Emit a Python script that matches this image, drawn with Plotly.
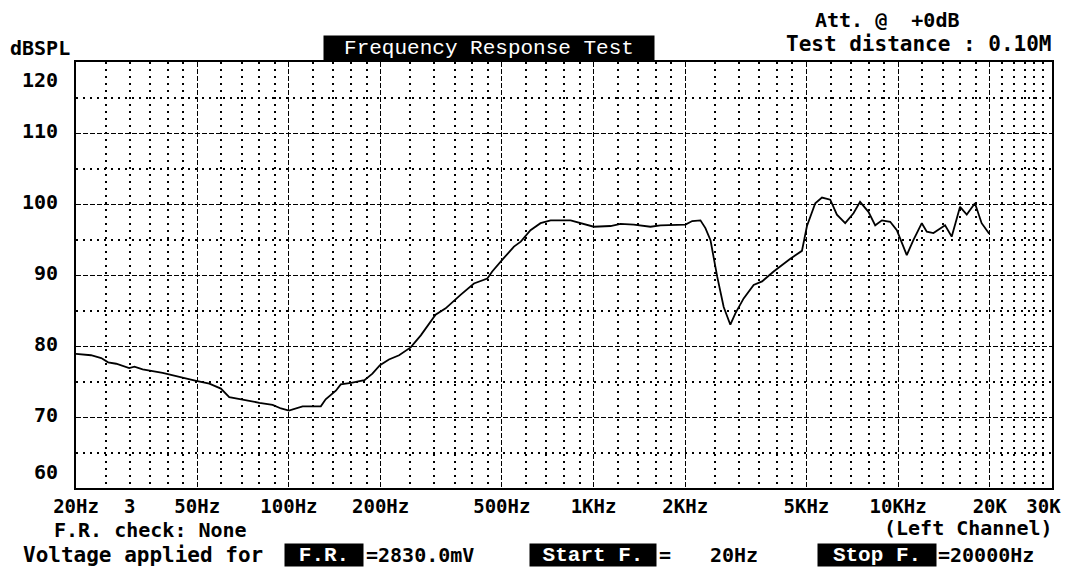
import math
import plotly.graph_objects as go

# ---------------- data ----------------
freq_hz = [20, 22.4, 24.2, 25.5, 27.1, 29.9, 31.1, 33.1, 38.5, 44.8, 49.6, 54.8, 59.8,
           63.7, 70.5, 80, 88.4, 94.2, 100, 110.9, 127.3, 132, 142.6, 148, 160, 177,
           188, 199, 213, 230, 251, 271, 303, 327, 366, 405, 448, 465, 508, 548, 577,
           621, 670, 723, 841, 929, 1002, 1137, 1227, 1356, 1538, 1659, 2004, 2109,
           2244, 2330, 2421, 2546, 2675, 2813, 2922, 3111, 3355, 3576, 3902, 4427,
           4833, 5020, 5345, 5623, 5987, 6295, 6702, 7136, 7500, 7990, 8410, 8846,
           9418, 9903, 10675, 11220, 11960, 12420, 13060, 14260, 14990, 15970, 16800,
           17870, 18800, 19910]
spl_db = [78.9, 78.7, 78.3, 77.7, 77.5, 76.9, 77.1, 76.7, 76.2, 75.5, 75.1, 74.7, 74.0,
          72.8, 72.4, 72.0, 71.7, 71.2, 70.9, 71.5, 71.5, 72.5, 73.7, 74.6, 74.8, 75.2,
          76.1, 77.3, 78.1, 78.7, 79.8, 81.5, 84.4, 85.3, 87.2, 88.8, 89.5, 90.5, 92.4,
          94.0, 94.7, 96.3, 97.3, 97.7, 97.7, 97.2, 96.8, 96.9, 97.2, 97.1, 96.8, 97.0,
          97.1, 97.6, 97.7, 96.6, 94.9, 89.8, 85.5, 83.0, 84.6, 86.7, 88.6, 89.1, 90.5,
          92.3, 93.4, 96.9, 100.1, 100.9, 100.6, 98.5, 97.3, 98.7, 100.3, 98.9, 97.0,
          97.7, 97.5, 96.3, 92.8, 94.9, 97.3, 96.1, 95.9, 97.0, 95.4, 99.6, 98.5, 100.1,
          97.3, 95.8]

x_tick_vals = [20, 30, 50, 100, 200, 500, 1000, 2000, 5000, 10000, 20000, 30000]
x_tick_text = ["20Hz", "3", "50Hz", "100Hz", "200Hz", "500Hz", "1KHz", "2KHz", "5KHz",
               "10KHz", "20K", "30K"]
x_major_grid = [50, 100, 200, 500, 1000, 2000, 5000, 10000, 20000]
x_minor_grid = [25, 30, 35, 40, 45, 60, 70, 80, 90, 120, 140, 160, 180,
                250, 300, 350, 400, 450, 600, 700, 800, 900, 1200, 1400, 1600, 1800,
                2500, 3000, 3500, 4000, 4500, 6000, 7000, 8000, 9000,
                12000, 14000, 16000, 18000, 22000, 24000, 26000, 28000, 30000]
y_tick_vals = [60, 70, 80, 90, 100, 110, 120]
y_major_grid = [70, 80, 90, 100, 110]
y_minor_grid = [65, 75, 85, 95, 105, 115]

X_RANGE = [20, 32000]
Y_RANGE = [60, 120]

# ---------------- layout geometry ----------------
W, H = 1074, 572
L, R, T, B = 76, 1052, 62, 488
PW, PH = R - L, B - T


def px(xp):
    return (xp - L) / PW


def py(yp):
    return (B - yp) / PH


MONO = "DejaVu Sans Mono"
SERIF_MONO = "Liberation Mono"
FS = 20

fig = go.Figure()
fig.add_trace(go.Scatter(x=freq_hz, y=spl_db, mode="lines",
                         line=dict(color="black", width=1.8), hoverinfo="skip",
                         showlegend=False))
# invisible trace to anchor the grid axis
fig.add_trace(go.Scatter(x=[X_RANGE[0]], y=[Y_RANGE[0]], xaxis="x2", mode="markers",
                         marker=dict(opacity=0), showlegend=False, hoverinfo="skip"))

lx = [math.log10(v) for v in X_RANGE]

fig.update_layout(
    width=W, height=H,
    margin=dict(l=L, r=W - R, t=T, b=H - B),
    paper_bgcolor="white", plot_bgcolor="white",
    xaxis=dict(type="log", range=lx, tickmode="array", tickvals=x_tick_vals,
               ticktext=x_tick_text, showgrid=False, zeroline=False,
               showline=True, linecolor="black", linewidth=2, mirror=True,
               ticks="", tickfont=dict(family=MONO, size=19, color="black",
                                       weight="bold"),
               ticklabelstandoff=0),
    xaxis2=dict(type="log", range=lx, overlaying="x", tickmode="array",
                tickvals=x_major_grid, showticklabels=False, ticks="",
                showgrid=True, gridcolor="black", gridwidth=1.2, griddash="5px,2px",
                zeroline=False, showline=False,
                minor=dict(tickmode="array", tickvals=x_minor_grid, showgrid=True,
                           gridcolor="black", gridwidth=1.5, griddash="2px,5px",
                           ticks="")),
    yaxis=dict(range=Y_RANGE, tickmode="array", tickvals=y_major_grid,
               showticklabels=False, ticks="", showgrid=True, gridcolor="black",
               gridwidth=1.2, griddash="5px,2px", zeroline=False,
               showline=True, linecolor="black", linewidth=2, mirror=True,
               minor=dict(tickmode="array", tickvals=y_minor_grid, showgrid=True,
                          gridcolor="black", gridwidth=1.5, griddash="2px,5px",
                          ticks="")),
)

ann = []


def text(t, xp, yp, xanchor="left", yanchor="middle", size=FS):
    ann.append(dict(text=t, x=px(xp), y=py(yp), xref="paper", yref="paper",
                    xanchor=xanchor, yanchor=yanchor, showarrow=False,
                    font=dict(family=MONO, size=size, color="black", weight="bold")))


# y tick labels
for v in y_tick_vals:
    if v == Y_RANGE[1]:
        ya, ys = "top", -4
    elif v == Y_RANGE[0]:
        ya, ys = "bottom", 2
    else:
        ya, ys = "middle", 2
    ann.append(dict(text=str(v), x=0, y=v, xref="paper", yref="y", xanchor="right",
                    yanchor=ya, xshift=-16, yshift=ys, showarrow=False,
                    font=dict(family=MONO, size=FS, color="black", weight="bold")))

text("dBSPL", 8, 48)
text("Att. @  +0dB", 813, 20)
text("Test distance : 0.10M", 1054, 44, xanchor="right", size=21)
ann.append(dict(text="Frequency Response Test", x=px(489), y=py(48.5), xref="paper",
                yref="paper", xanchor="center", yanchor="middle", showarrow=False,
                width=330, height=25, bgcolor="black", borderpad=0,
                font=dict(family=SERIF_MONO, size=21, color="white")))

text("F.R. check: None", 52, 530, size=20)
text("(Left Channel)", 1055, 528, xanchor="right", size=20)

text("Voltage applied for", 21, 555, size=21)
box_font = dict(family=SERIF_MONO, size=21, color="white", weight="bold")
ann.append(dict(text="F.R.", x=px(324), y=py(555), xref="paper", yref="paper",
                xanchor="center", yanchor="middle", showarrow=False, width=78,
                height=22, bgcolor="black", borderpad=0, font=box_font))
text("=2830.0mV", 364, 555)
ann.append(dict(text="Start F.", x=px(593), y=py(555), xref="paper", yref="paper",
                xanchor="center", yanchor="middle", showarrow=False, width=126,
                height=22, bgcolor="black", borderpad=0, font=box_font))
text("=", 657, 555)
text("20Hz", 708, 555)
ann.append(dict(text="Stop F.", x=px(877), y=py(555), xref="paper", yref="paper",
                xanchor="center", yanchor="middle", showarrow=False, width=118,
                height=22, bgcolor="black", borderpad=0, font=box_font))
text("=20000Hz", 936, 555)

fig.update_layout(annotations=ann)
fig.write_html("out.html", config={"displayModeBar": False},
               post_script="document.body.style.margin='0';"
                           "document.body.style.padding='0';"
                           "document.documentElement.style.overflow='hidden';")
